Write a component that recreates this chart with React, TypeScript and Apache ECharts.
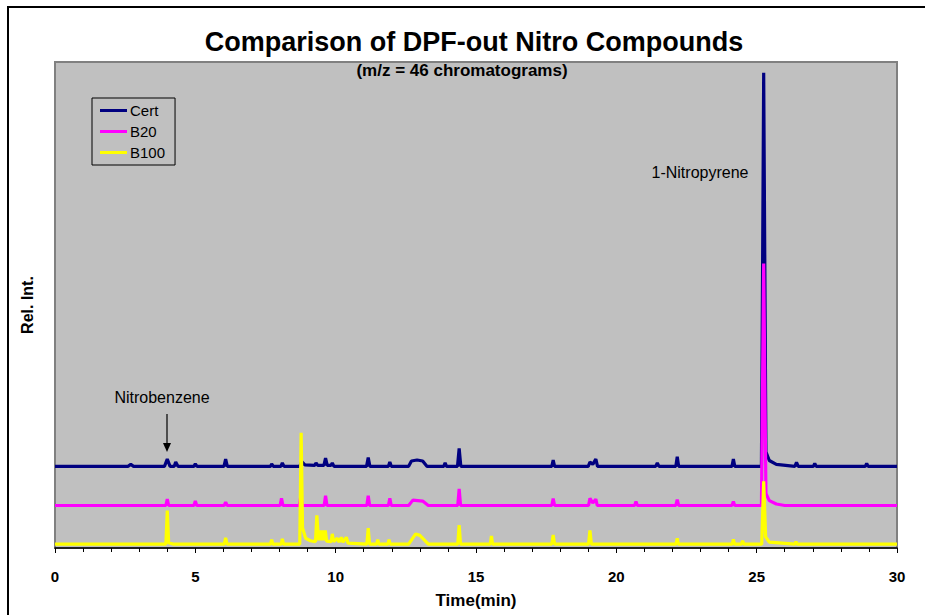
import React, { useEffect, useRef } from "react";
import * as echarts from "echarts";

// Retention time (min) vs. relative intensity above each trace's own baseline
const certPoints: number[][] = [
  [0, 0], [2.6, 0], [2.7, 0.4], [2.8, 0], [3.9, 0], [4.0, 1.5], [4.1, 0], [4.25, 0], [4.3, 0.9], [4.38, 0],
  [4.95, 0], [5.0, 0.5], [5.06, 0], [6.02, 0], [6.08, 1.5], [6.14, 0], [7.68, 0], [7.72, 0.5], [7.78, 0],
  [8.05, 0], [8.1, 0.7], [8.16, 0], [8.72, 0], [8.79, 1.0], [8.9, 0.3], [9.25, 0.2], [9.3, 0.7], [9.36, 0.2],
  [9.58, 0.2], [9.64, 1.7], [9.7, 0.2], [9.83, 0.2], [9.88, 0.7], [9.94, 0], [11.1, 0], [11.16, 1.8], [11.22, 0],
  [11.88, 0], [11.93, 0.9], [11.98, 0], [12.6, 0], [12.7, 1.1], [12.9, 1.3], [13.1, 1.1], [13.25, 0], [13.85, 0], [13.9, 0.7],
  [13.95, 0], [14.34, 0], [14.4, 3.7], [14.46, 0], [17.7, 0], [17.75, 1.3], [17.8, 0], [19.0, 0], [19.06, 0.9],
  [19.16, 0.4], [19.27, 1.5], [19.33, 0], [21.4, 0], [21.46, 0.7], [21.52, 0], [22.12, 0], [22.17, 2.0], [22.22, 0],
  [24.12, 0], [24.17, 1.5], [24.22, 0], [25.17, 0], [25.25, 81], [25.33, 3], [25.45, 1.2], [25.7, 0.4], [26.36, 0],
  [26.42, 0.8], [26.48, 0], [27.02, 0], [27.07, 0.6], [27.12, 0], [28.87, 0], [28.92, 0.6], [28.97, 0], [30, 0],
];

const b20Points: number[][] = [
  [0, 0], [3.95, 0], [4.0, 1.3], [4.05, 0], [4.95, 0], [5.0, 0.9], [5.05, 0], [6.03, 0], [6.08, 0.7], [6.13, 0],
  [8.02, 0], [8.07, 1.5], [8.12, 0], [8.71, 0], [8.76, 2.0], [8.81, 0], [9.59, 0], [9.64, 2.0], [9.69, 0],
  [11.11, 0], [11.16, 2.0], [11.21, 0], [11.88, 0], [11.93, 1.5], [11.98, 0], [12.6, 0], [12.75, 1.1], [13.1, 0.9],
  [13.3, 0], [14.35, 0], [14.4, 3.4], [14.45, 0], [17.7, 0], [17.75, 1.4], [17.8, 0], [19.01, 0], [19.06, 1.5],
  [19.16, 0.5], [19.27, 1.3], [19.32, 0], [20.65, 0], [20.7, 0.8], [20.75, 0], [22.12, 0], [22.17, 1.2], [22.22, 0],
  [24.12, 0], [24.17, 0.8], [24.22, 0], [25.17, 0], [25.25, 49.8], [25.33, 2.5], [25.45, 1.0], [25.7, 0.3], [26, 0],
  [30, 0],
];

const b100Points: number[][] = [
  [0, 0], [3.95, 0], [4.0, 6.9], [4.05, 0.3], [4.2, 0], [6.03, 0], [6.08, 1.3], [6.13, 0], [7.68, 0], [7.72, 0.9],
  [7.76, 0], [8.06, 0], [8.1, 1.1], [8.14, 0], [8.72, 0], [8.77, 22.9], [8.82, 3.3], [8.93, 1.2], [9.1, 0.7],
  [9.28, 0.5], [9.33, 5.9], [9.39, 0.8], [9.45, 2.8], [9.49, 0.8], [9.54, 2.8], [9.58, 0.8], [9.63, 2.8], [9.68, 0.6],
  [9.84, 0.5], [9.88, 2.1], [9.93, 0.5], [10.06, 1.2], [10.12, 0.4], [10.2, 1.4], [10.26, 0.4], [10.38, 1.4],
  [10.44, 0.2], [11.11, 0], [11.16, 3.3], [11.21, 0], [11.46, 0], [11.5, 0.9], [11.54, 0], [11.86, 0], [11.9, 0.9],
  [11.94, 0], [12.6, 0], [12.85, 2.1], [13.0, 1.8], [13.3, 0], [14.35, 0], [14.4, 3.9], [14.45, 0], [15.51, 0],
  [15.55, 1.7], [15.59, 0], [17.7, 0], [17.75, 1.9], [17.8, 0], [19.01, 0], [19.06, 2.8], [19.11, 0], [22.13, 0],
  [22.17, 1.2], [22.21, 0], [24.13, 0], [24.17, 1.0], [24.21, 0], [24.46, 0], [24.5, 0.7], [24.54, 0], [25.18, 0],
  [25.25, 12.9], [25.32, 1.5], [25.45, 0.4], [26.36, 0], [26.4, 0.5], [26.44, 0], [30, 0],
];

// vertical stacking offsets of the three chromatograms
const seriesNames = ["Cert", "B20", "B100"];
const seriesOffsets = [16.8, 8.75, 0.8];
const seriesColors = ["#000080", "#FF00FF", "#FFFF00"];
const seriesPoints = [certPoints, b20Points, b100Points];

const xTicks = [0, 5, 10, 15, 20, 25, 30];

const titleText = "Comparison of DPF-out Nitro Compounds";
const subtitleText = "(m/z = 46 chromatograms)";
const xTitle = "Time(min)";
const yTitle = "Rel. Int.";

export default function App() {
  const ref = useRef<HTMLDivElement>(null);

  useEffect(() => {
    if (!ref.current) return;
    const chart = echarts.init(ref.current, undefined, { renderer: "svg" });
    const font = "Arial, 'Liberation Sans', Helvetica, sans-serif";

    const option: any = {
      animation: false,
      backgroundColor: "#FFFFFF",
      textStyle: { fontFamily: font },
      title: [
        {
          text: titleText,
          left: 474,
          top: 28,
          textAlign: "center",
          padding: 0,
          textStyle: { fontSize: 27, fontWeight: "bold", color: "#000", fontFamily: font },
        },
        {
          text: subtitleText,
          left: 462,
          top: 62,
          textAlign: "center",
          padding: 0,
          textStyle: { fontSize: 17, fontWeight: "bold", color: "#000", fontFamily: font },
        },
      ],
      legend: {
        orient: "vertical",
        left: 92,
        top: 98,
        padding: [5, 10, 5, 8],
        itemGap: 6,
        itemWidth: 27,
        itemHeight: 3,
        icon: "rect",
        borderColor: "#000",
        borderWidth: 1,
        backgroundColor: "#C0C0C0",
        data: seriesNames,
        textStyle: { fontSize: 15, color: "#000", fontFamily: font, padding: [0, 0, 0, -2] },
      },
      grid: {
        left: 55,
        right: 28,
        top: 62,
        bottom: 67,
        show: true,
        backgroundColor: "#C0C0C0",
        borderColor: "#808080",
        borderWidth: 2,
      },
      xAxis: {
        type: "value",
        min: xTicks[0],
        max: xTicks[xTicks.length - 1],
        interval: 5,
        name: xTitle,
        nameLocation: "middle",
        nameGap: 44,
        nameTextStyle: { fontSize: 17, fontWeight: "bold", color: "#000", fontFamily: font },
        axisLine: { show: true, onZero: false, lineStyle: { color: "#000", width: 1.5 } },
        axisTick: { show: true, inside: false, length: 5, lineStyle: { color: "#000" } },
        minorTick: { show: true, splitNumber: 5, length: 4, lineStyle: { color: "#000" } },
        axisLabel: { fontSize: 15, fontWeight: "bold", color: "#000", margin: 21, fontFamily: font },
        splitLine: { show: false },
      },
      yAxis: {
        type: "value",
        min: 0,
        max: 100,
        name: yTitle,
        nameLocation: "middle",
        nameGap: 20,
        nameTextStyle: { fontSize: 16, fontWeight: "bold", color: "#000", fontFamily: font },
        axisLine: { show: false },
        axisTick: { show: false },
        axisLabel: { show: false },
        splitLine: { show: false },
      },
      series: seriesNames.map((name, i) => ({
        name,
        type: "line",
        showSymbol: false,
        symbol: "none",
        color: seriesColors[i],
        lineStyle: { color: seriesColors[i], width: 3.2 },
        data: seriesPoints[i].map(([t, h]) => [t, h + seriesOffsets[i]]),
        z: 2 + i,
      })),
      graphic: [
        {
          type: "rect",
          shape: { x: 8, y: 7, width: 1200, height: 1200 },
          style: { fill: "none", stroke: "#000", lineWidth: 2 },
          silent: true,
          z: 100,
        },
        {
          type: "text",
          x: 162,
          y: 397,
          style: {
            text: "Nitrobenzene",
            fill: "#000",
            font: `16px ${font}`,
            textAlign: "center",
            textVerticalAlign: "middle",
          },
          z: 100,
        },
        {
          type: "line",
          shape: { x1: 167, y1: 414, x2: 167, y2: 446 },
          style: { stroke: "#000", lineWidth: 1.2 },
          z: 100,
        },
        {
          type: "polygon",
          shape: { points: [[163, 443], [171, 443], [167, 452]] },
          style: { fill: "#000" },
          z: 100,
        },
        {
          type: "text",
          x: 700,
          y: 172,
          style: {
            text: "1-Nitropyrene",
            fill: "#000",
            font: `16px ${font}`,
            textAlign: "center",
            textVerticalAlign: "middle",
          },
          z: 100,
        },
      ],
    };

    chart.setOption(option);
    return () => chart.dispose();
  }, []);

  return (
    <div
      ref={ref}
      style={{ position: "fixed", left: 0, top: 0, width: 925, height: 615 }}
    />
  );
}
